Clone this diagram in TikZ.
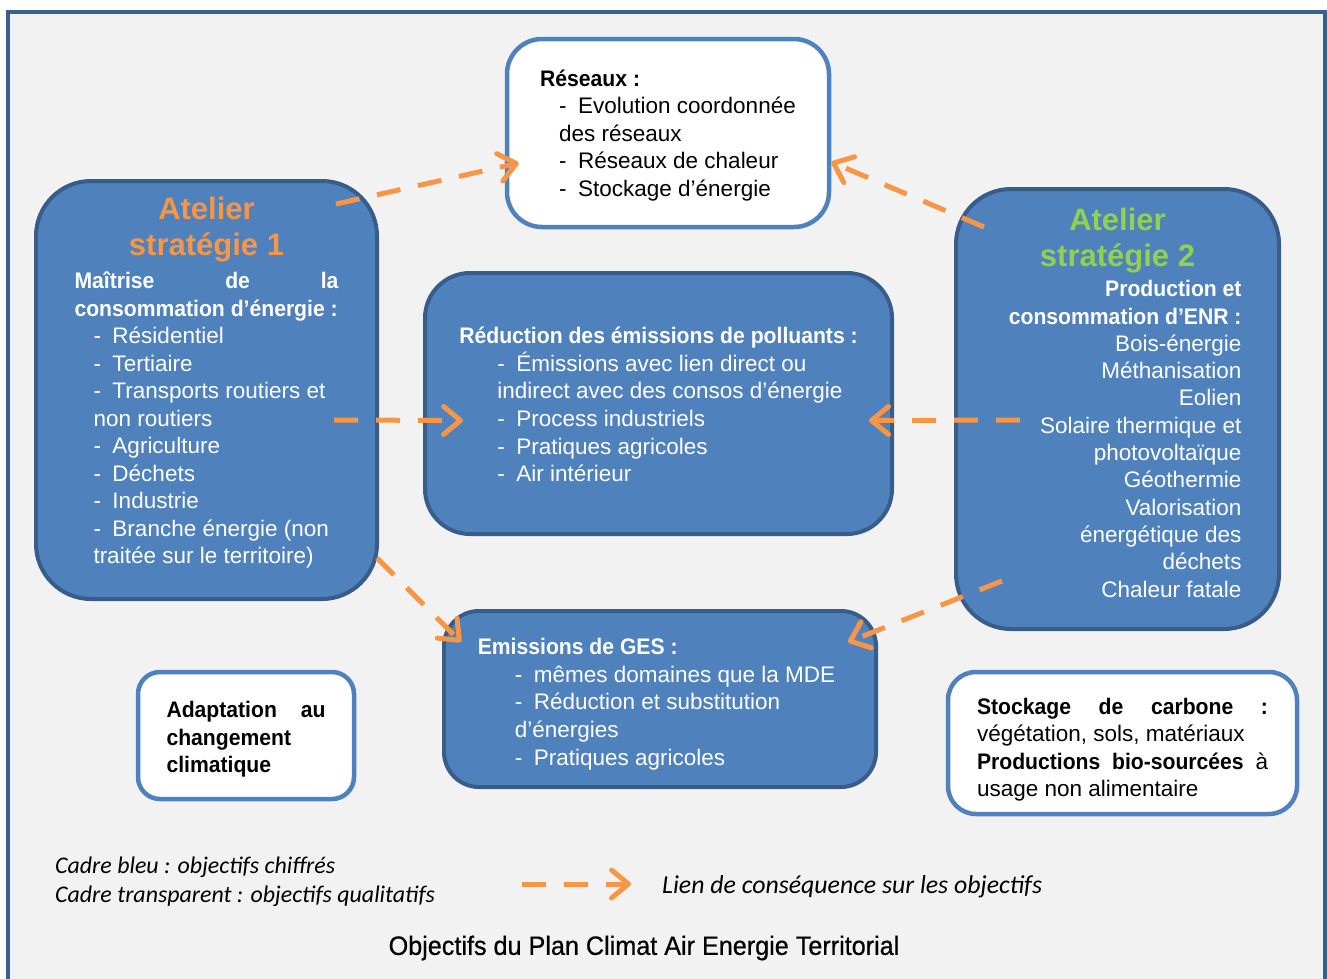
\documentclass[tikz,border=0pt]{standalone}
\usepackage{fontspec}
\setmainfont{Liberation Sans}
\newfontfamily\grasfont[FakeStretch=0.94]{Liberation Sans}
\newfontfamily\legendefont{Carlito}
\newfontfamily\titrefont[FakeStretch=0.95,FakeBold=0.6]{Liberation Sans}
\usepackage{tikz}
\usetikzlibrary{arrows.meta,positioning}
\definecolor{bleuPCAET}{HTML}{4F81BD}
\definecolor{bleufonce}{HTML}{385D8A}
\definecolor{orangePCAET}{HTML}{F79646}
\definecolor{vertPCAET}{HTML}{92D050}
\definecolor{fond}{HTML}{F2F2F2}
\definecolor{cadre}{HTML}{3C5F8E}
\newcommand{\corps}{\fontsize{22.5}{27.5}\selectfont}
\tikzstyle{cadrebleu}=[draw=bleufonce, fill=bleuPCAET, line width=4pt]
\tikzstyle{cadreblanc}=[draw=bleuPCAET, fill=white, line width=4.5pt]
\tikzstyle{textebleu}=[text=white, align=left, inner sep=0pt, font=\corps]
\tikzstyle{texteblanc}=[text=black, align=left, inner sep=0pt, font=\corps]
\tikzstyle{lien}=[draw=orangePCAET, line width=5pt, dash pattern=on 24pt off 18pt, -{Straight Barb[length=17pt,width=28pt,round]}]
\tikzstyle{legende}=[font={\legendefont\itshape\fontsize{23.9}{28}\selectfont}, inner sep=0pt]
\newcommand{\tiret}{\makebox[19pt][l]{-}}
\newcommand{\gras}[1]{{\grasfont\bfseries #1}}
\newcommand{\titreatelier}[2]{{\fontsize{31}{36}\selectfont\bfseries\color{#1}#2}}

\begin{document}
\begin{tikzpicture}[x=1pt, y=-1pt]
    \useasboundingbox (0,0) rectangle (1327,978);
    % fond et cadre general
    \draw[cadre, line width=3.5pt, fill=fond] (8,12) rectangle (1325,1000);

    % cadres transparents
    \node[cadreblanc, rounded corners=35pt, minimum width=322pt, minimum height=188pt] (res) at (668,133) {};
    \node[texteblanc] (restexte) at (668,135.5) {%
        \gras{Réseaux :}\\
        \hspace*{19pt}\tiret Evolution coordonnée\\
        \hspace*{19pt}des réseaux\\
        \hspace*{19pt}\tiret Réseaux de chaleur\\
        \hspace*{19pt}\tiret Stockage d’énergie};

    \node[cadreblanc, rounded corners=22pt, minimum width=216pt, minimum height=127pt] (adapt) at (246,735.5) {};
    \node[texteblanc] (adapttexte) at (246,739.5) {%
        \hbox to 159pt{\gras{Adaptation}\hfill\gras{au}}\\
        \gras{changement}\\
        \gras{climatique}};

    \node[cadreblanc, rounded corners=28pt, minimum width=349pt, minimum height=142pt] (stock) at (1122.5,743) {};
    \node[texteblanc] (stocktexte) at (1122.5,749.5) {%
        \hbox to 291pt{\gras{Stockage}\hfill\gras{de}\hfill\gras{carbone}\hfill\gras{:}}\\
        végétation, sols, matériaux\\
        \hbox to 291pt{\gras{Productions}\hfill\gras{bio-sourcées}\hfill à}\\
        usage non alimentaire};

    % cadres bleus
    \node[cadrebleu, rounded corners=55pt, minimum width=341pt, minimum height=418pt] (at1) at (206.5,390) {};
    \node[textebleu] (at1texte) at (206.5,383) {%
        \makebox[264pt]{\titreatelier{orangePCAET}{Atelier}}\\[8.5pt]
        \makebox[264pt]{\titreatelier{orangePCAET}{stratégie 1}}\\[5.5pt]
        \hbox to 264pt{\gras{Maîtrise}\hfill\gras{de}\hfill\gras{la}}\\
        \gras{consommation d’énergie :}\\
        \hspace*{19pt}\tiret Résidentiel\\
        \hspace*{19pt}\tiret Tertiaire\\
        \hspace*{19pt}\tiret Transports routiers et\\
        \hspace*{19pt}non routiers\\
        \hspace*{19pt}\tiret Agriculture\\
        \hspace*{19pt}\tiret Déchets\\
        \hspace*{19pt}\tiret Industrie\\
        \hspace*{19pt}\tiret Branche énergie (non\\
        \hspace*{19pt}traitée sur le territoire)};

    \node[cadrebleu, rounded corners=45pt, minimum width=467pt, minimum height=261pt] (red) at (658.5,403.5) {};
    \node[textebleu, font={\fontsize{22.5}{27.6}\selectfont}] (redtexte) at (658.5,404.5) {%
        \gras{Réduction des émissions de polluants :}\\
        \hspace*{38pt}\tiret Émissions avec lien direct ou\\
        \hspace*{38pt}indirect avec des consos d’énergie\\
        \hspace*{38pt}\tiret Process industriels\\
        \hspace*{38pt}\tiret Pratiques agricoles\\
        \hspace*{38pt}\tiret Air intérieur};

    \node[cadrebleu, rounded corners=55pt, minimum width=323pt, minimum height=440pt] (at2) at (1117.5,409) {};
    \node[textebleu, align=right, font={\fontsize{22.5}{27.3}\selectfont}] (at2texte) at (1117.5,402.5) {%
        \makebox[248pt]{\titreatelier{vertPCAET}{Atelier}}\\[9.5pt]
        \makebox[248pt]{\titreatelier{vertPCAET}{stratégie 2}}\\[2.5pt]
        \gras{Production et}\\
        \gras{consommation d’ENR :}\\
        Bois-énergie\\
        Méthanisation\\
        Eolien\\
        Solaire thermique et\\
        photovoltaïque\\
        Géothermie\\
        Valorisation\\
        énergétique des\\
        déchets\\
        Chaleur fatale};

    \node[cadrebleu, rounded corners=35pt, minimum width=432pt, minimum height=176pt] (ges) at (660,699) {};
    \node[textebleu, font={\fontsize{22.5}{27.75}\selectfont}] (gestexte) at (656.5,704) {%
        \gras{Emissions de GES :}\\
        \hspace*{37pt}\tiret mêmes domaines que la MDE\\
        \hspace*{37pt}\tiret Réduction et substitution\\
        \hspace*{37pt}d’énergies\\
        \hspace*{37pt}\tiret Pratiques agricoles};

    % liens de consequence
    \draw[lien] ([shift={(-43,25)}]at1.north east) -- ([shift={(14,30)}]res.west);
    \draw[lien] ([shift={(30,40)}]at2.north west) -- ([shift={(0,29)}]res.east);
    \draw[lien] ([shift={(-45,30)}]at1.east) -- ([shift={(40,17)}]red.west);
    \draw[lien] ([shift={(66,11)}]at2.west) -- ([shift={(-25,17)}]red.east);
    \draw[lien] ([shift={(-2,-43)}]at1.south east) -- ([shift={(19,33)}]ges.north west);
    \draw[lien] ([shift={(48,-50)}]at2.south west) -- ([shift={(-30,33)}]ges.north east);

    % legende
    \node[legende, anchor=west] (leg1) at (55,867) {Cadre bleu : objectifs chiffrés};
    \node[legende, anchor=west] (leg2) at (55,896) {Cadre transparent : objectifs qualitatifs};
    \node[legende, anchor=west, font={\legendefont\itshape\fontsize{25.8}{28}\selectfont}] (leg3) at (662,887) {Lien de conséquence sur les objectifs};
    \coordinate (legdebut) at (522,884);
    \coordinate (legfin) at (631,884);
    \draw[lien] (legdebut) -- (legfin);

    \node[font={\titrefont\fontsize{26.5}{30}\selectfont}] (titre) at (644,948) {Objectifs du Plan Climat Air Energie Territorial};
\end{tikzpicture}
\end{document}
